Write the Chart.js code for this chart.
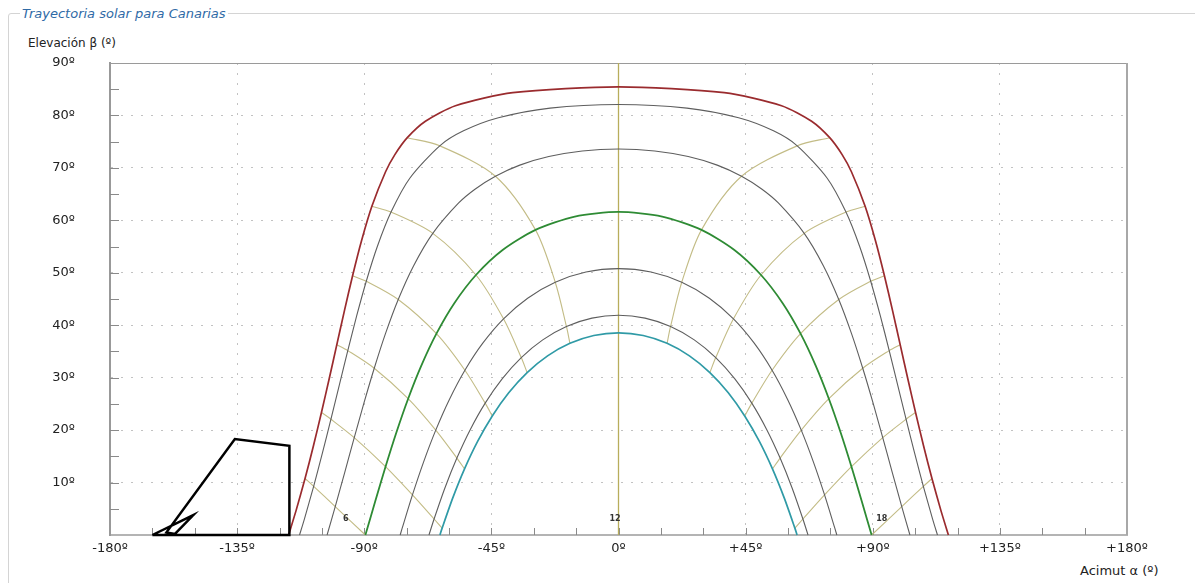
<!DOCTYPE html>
<html>
<head>
<meta charset="utf-8">
<script src="https://cdn.jsdelivr.net/npm/chart.js@4.4.0/dist/chart.umd.min.js"></script>
<style>
  body { margin: 0; width: 1195px; height: 583px; overflow: hidden; background: #fff; position: relative; font-family: 'DejaVu Sans', sans-serif; }
  fieldset { position: absolute; left: 8px; top: 6px; width: 1300px; height: 700px; margin: 0; padding: 0; border: 1px solid #d4d4d4; border-radius: 3px; }
  legend { font: italic 13px 'DejaVu Sans', sans-serif; color: #2f6aa6; padding: 0 2px; margin-left: 11px; }
  .axt { position: absolute; font-size: 12px; color: #222; white-space: nowrap; }
  canvas { position: absolute; left: 0; top: 0; }
</style>
</head>
<body>
<fieldset><legend>Trayectoria solar para Canarias</legend></fieldset>
<div class="axt" style="left:28px;top:36px">Elevación β (º)</div>
<div class="axt" style="left:1080px;top:563px;font-size:13px">Acimut α (º)</div>
<canvas id="chart" width="1195" height="583"></canvas>
<script>
// tick labels
var xTickLabels = ['-180º', '-135º', '-90º', '-45º', '0º', '+45º', '+90º', '+135º', '+180º'];
var yTickLabels = ['', '10º', '20º', '30º', '40º', '50º', '60º', '70º', '80º', '90º'];

// sun paths: solar time (h), azimuth (º), elevation (º)
var junT  = [5.11,5.5,6,6.5,7,7.5,8,8.5,9,9.5,10,10.5,10.75,11,11.25,11.5,11.75,12,12.25,12.5,12.75,13,13.25,13.5,14,14.5,15,15.5,16,16.5,17,17.5,18,18.5,18.89];
var junAz = [-116.79,-114.14,-110.96,-107.98,-105.15,-102.41,-99.71,-96.99,-94.13,-90.99,-87.30,-82.45,-79.16,-74.77,-68.35,-57.72,-37.43,0,37.43,57.72,68.35,74.77,79.16,82.45,87.30,90.99,94.13,96.99,99.71,102.41,105.15,107.98,110.96,114.14,116.79];
var junEl = [0,4.65,10.77,17.01,23.36,29.79,36.29,42.84,49.43,56.05,62.67,69.26,72.53,75.76,78.90,81.86,84.34,85.45,84.34,81.86,78.90,75.76,72.53,69.26,62.67,56.05,49.43,42.84,36.29,29.79,23.36,17.01,10.77,4.65,0];

var mayT  = [5.25,5.5,6,6.5,7,7.5,8,8.5,9,9.5,10,10.5,11,11.25,11.5,11.75,12,12.25,12.5,12.75,13,13.5,14,14.5,15,15.5,16,16.5,17,17.5,18,18.5,18.75];
var mayAz = [-112.91,-111.19,-107.91,-104.80,-101.79,-98.83,-95.83,-92.69,-89.28,-85.37,-80.52,-73.88,-63.27,-54.86,-42.52,-24.23,0,24.23,42.52,54.86,63.27,73.88,80.52,85.37,89.28,92.69,95.83,98.83,101.79,104.80,107.91,111.19,112.91];
var mayEl = [0,3.04,9.28,15.64,22.08,28.60,35.16,41.77,48.39,55.00,61.57,68.03,74.21,77.06,79.55,81.40,82.10,81.40,79.55,77.06,74.21,68.03,61.57,55.00,48.39,41.77,35.16,28.60,22.08,15.64,9.28,3.04,0];

var aprT  = [5.58,6,6.5,7,7.5,8,8.5,9,9.5,10,10.5,10.75,11,11.25,11.5,11.75,12,12.25,12.5,12.75,13,13.25,13.5,14,14.5,15,15.5,16,16.5,17,17.5,18,18.42];
var aprAz = [-103.16,-100.27,-96.90,-93.54,-90.10,-86.46,-82.49,-77.97,-72.56,-65.74,-56.58,-50.68,-43.56,-34.94,-24.67,-12.83,0,12.83,24.67,34.94,43.56,50.68,56.58,65.74,72.56,77.97,82.49,86.46,90.10,93.54,96.90,100.27,103.16];
var aprEl = [0,5.42,11.96,18.56,25.18,31.79,38.39,44.91,51.31,57.52,63.31,65.98,68.41,70.53,72.16,73.23,73.60,73.23,72.16,70.53,68.41,65.98,63.31,57.52,51.31,44.91,38.39,31.79,25.18,18.56,11.96,5.42,0];

var marT  = [6,6.5,7,7.5,8,8.5,9,9.5,10,10.5,11,11.5,12,12.5,13,13.5,14,14.5,15,15.5,16,16.5,17,17.5,18];
var marAz = [-89.60,-86.11,-82.47,-78.63,-74.46,-69.80,-64.45,-58.12,-50.46,-41.02,-29.38,-15.47,0,15.47,29.38,41.02,50.46,58.12,64.45,69.80,74.46,78.63,82.47,86.11,89.60];
var marEl = [0,6.43,13.02,19.55,25.99,32.29,38.39,44.20,49.58,54.34,58.18,60.71,61.60,60.71,58.18,54.34,49.58,44.20,38.39,32.29,25.99,19.55,13.02,6.43,0];

var febT  = [6.40,6.5,7,7.5,8,8.5,9,9.5,10,10.5,11,11.5,12,12.5,13,13.5,14,14.5,15,15.5,16,16.5,17,17.5,17.6];
var febAz = [-77.29,-76.60,-72.94,-69.01,-64.69,-59.86,-54.37,-48.04,-40.70,-32.16,-22.39,-11.52,0,11.52,22.39,32.16,40.70,48.04,54.37,59.86,64.69,69.01,72.94,76.60,77.29];
var febEl = [0,1.25,7.64,13.90,19.99,25.85,31.42,36.58,41.22,45.15,48.19,50.14,50.80,50.14,48.19,45.15,41.22,36.58,31.42,25.85,19.99,13.90,7.64,1.25,0];

var janT  = [6.75,7,7.5,8,8.5,9,9.5,10,10.5,11,11.5,12,12.5,13,13.5,14,14.5,15,15.5,16,16.5,17,17.25];
var janAz = [-67.09,-65.28,-61.45,-57.21,-52.49,-47.19,-41.19,-34.42,-26.82,-18.43,-9.40,0,9.40,18.43,26.82,34.42,41.19,47.19,52.49,57.21,61.45,65.28,67.09];
var janEl = [0,3.05,8.97,14.67,20.09,25.15,29.77,33.83,37.21,39.76,41.36,41.90,41.36,39.76,37.21,33.83,29.77,25.15,20.09,14.67,8.97,3.05,0];

var decT  = [6.89,7,7.5,8,8.5,9,9.5,10,10.5,11,11.5,12,12.5,13,13.5,14,14.5,15,15.5,16,16.5,17,17.11];
var decAz = [-63.21,-62.43,-58.66,-54.50,-49.87,-44.68,-38.86,-32.34,-25.11,-17.19,-8.75,0,8.75,17.19,25.11,32.34,38.86,44.68,49.87,54.50,58.66,62.43,63.21];
var decEl = [0,1.31,7.07,12.60,17.84,22.70,27.12,30.97,34.16,36.55,38.04,38.55,38.04,36.55,34.16,30.97,27.12,22.70,17.84,12.60,7.07,1.31,0];

// hour lines drawn through the sun paths
var hours = [6, 7, 8, 9, 10, 11, 13, 14, 15, 16, 17, 18];
var noonAz = [0, 0];
var noonEl = [0, 90];

// horizon obstacle profile
var horizonAz = [-165, -150.5, -157, -160, -135.8, -116.5, -116.5, -165];
var horizonEl = [0, 3.8, 0.2, 0.5, 18.3, 17.0, 0, 0];

var hourTags = ['6', '12', '18'];

function pts(az, el) {
    var out = [];
    for (var i = 0; i < az.length; i++) out.push({x: az[i], y: el[i]});
    return out;
}

var days = [
    {t: junT, az: junAz, el: junEl, color: '#9a2b2e', w: 1.7},
    {t: mayT, az: mayAz, el: mayEl, color: '#5e5e5e', w: 1.1},
    {t: aprT, az: aprAz, el: aprEl, color: '#5e5e5e', w: 1.1},
    {t: marT, az: marAz, el: marEl, color: '#2e8b34', w: 1.8},
    {t: febT, az: febAz, el: febEl, color: '#5e5e5e', w: 1.1},
    {t: janT, az: janAz, el: janEl, color: '#5e5e5e', w: 1.1},
    {t: decT, az: decAz, el: decEl, color: '#2f9aa6', w: 1.7}
];

var datasets = [];
datasets.push({data: pts(horizonAz, horizonEl), borderColor: '#000', borderWidth: 2.5, tension: 0, clip: 6});
days.forEach(function (d) {
    datasets.push({data: pts(d.az, d.el), borderColor: d.color, borderWidth: d.w, tension: 0.25, clip: 6});
});
hours.forEach(function (h) {
    var line = [];
    days.forEach(function (d) {
        var i = d.t.indexOf(h);
        if (i >= 0) line.push({x: d.az[i], y: d.el[i]});
    });
    datasets.push({data: line, borderColor: '#c3bc86', borderWidth: 1.1, tension: 0.3, clip: 6});
});
datasets.push({data: pts(noonAz, noonEl), borderColor: '#b8ad5c', borderWidth: 1.3, tension: 0, clip: 6});
datasets.forEach(function (ds) { ds.showLine = true; ds.pointRadius = 0; ds.fill = false; });

var decor = {
    id: 'decor',
    beforeDatasetsDraw: function (chart) {
        var ctx = chart.ctx, a = chart.chartArea, x = chart.scales.x, y = chart.scales.y;
        ctx.save();
        ctx.strokeStyle = '#9a9a9a';
        ctx.lineWidth = 1;
        ctx.beginPath();
        ctx.moveTo(a.left, a.top + 0.5); ctx.lineTo(a.right, a.top + 0.5);
        ctx.stroke();
        ctx.lineWidth = 2;
        ctx.strokeStyle = '#a8a8a8';
        ctx.beginPath();
        ctx.moveTo(a.right, a.top); ctx.lineTo(a.right, a.bottom);
        ctx.stroke();
        // inward tick marks
        ctx.lineWidth = 1;
        ctx.strokeStyle = '#8a8a8a';
        ctx.beginPath();
        x.ticks.forEach(function (t) {
            if (Math.abs(t.value) === 180) return;
            var px = Math.round(x.getPixelForValue(t.value)) + 0.5;
            ctx.moveTo(px, a.bottom); ctx.lineTo(px, a.bottom - 7);
        });
        y.ticks.forEach(function (t) {
            if (t.value === 0 || t.value === 90) return;
            var py = Math.round(y.getPixelForValue(t.value)) + 0.5;
            ctx.moveTo(a.left, py); ctx.lineTo(a.left + 9, py);
        });
        ctx.stroke();
        ctx.restore();
    },
    afterDatasetsDraw: function (chart) {
        var ctx = chart.ctx, x = chart.scales.x, y = chart.scales.y;
        var spots = [-96.5, -1.2, 93.2];
        ctx.save();
        ctx.font = 'bold 8px "DejaVu Sans"';
        ctx.fillStyle = '#333';
        ctx.textAlign = 'center';
        ctx.textBaseline = 'middle';
        hourTags.forEach(function (txt, i) {
            ctx.fillText(txt, x.getPixelForValue(spots[i]), y.getPixelForValue(3.1));
        });
        ctx.restore();
    }
};

Chart.defaults.font.family = '"DejaVu Sans", sans-serif';
Chart.defaults.color = '#222';

new Chart(document.getElementById('chart'), {
    type: 'scatter',
    data: {datasets: datasets},
    options: {
        responsive: false,
        animation: false,
        events: [],
        layout: {padding: {left: 0, top: 63, right: 68, bottom: 0}},
        plugins: {legend: {display: false}, tooltip: {enabled: false}},
        scales: {
            x: {
                type: 'linear', min: -180, max: 180,
                afterFit: function (s) { s.height = 48; },
                ticks: {
                    stepSize: 15, autoSkip: false, maxRotation: 0, padding: 6,
                    font: {size: 13},
                    callback: function (v) { return v % 45 === 0 ? xTickLabels[v / 45 + 4] : ''; }
                },
                grid: {
                    drawTicks: false,
                    color: function (c) {
                        var v = c.tick ? c.tick.value : 0;
                        return (v % 45 === 0 && Math.abs(v) !== 180 && v !== 0) ? '#c2c2c2' : 'rgba(0,0,0,0)';
                    }
                },
                border: {color: '#b4b4b4', width: 2, dash: [2, 8]}
            },
            y: {
                type: 'linear', min: 0, max: 90,
                afterFit: function (s) { s.width = 110; },
                ticks: {
                    stepSize: 5, autoSkip: false, padding: 35,
                    font: {size: 13},
                    callback: function (v) { return v % 10 === 0 ? yTickLabels[v / 10] : ''; }
                },
                grid: {
                    drawTicks: false,
                    color: function (c) {
                        var v = c.tick ? c.tick.value : 0;
                        return (v % 10 === 0 && v !== 0 && v !== 90) ? '#c2c2c2' : 'rgba(0,0,0,0)';
                    }
                },
                border: {color: '#999', width: 2, dash: [2, 8]}
            }
        }
    },
    plugins: [decor]
});
</script>
</body>
</html>
